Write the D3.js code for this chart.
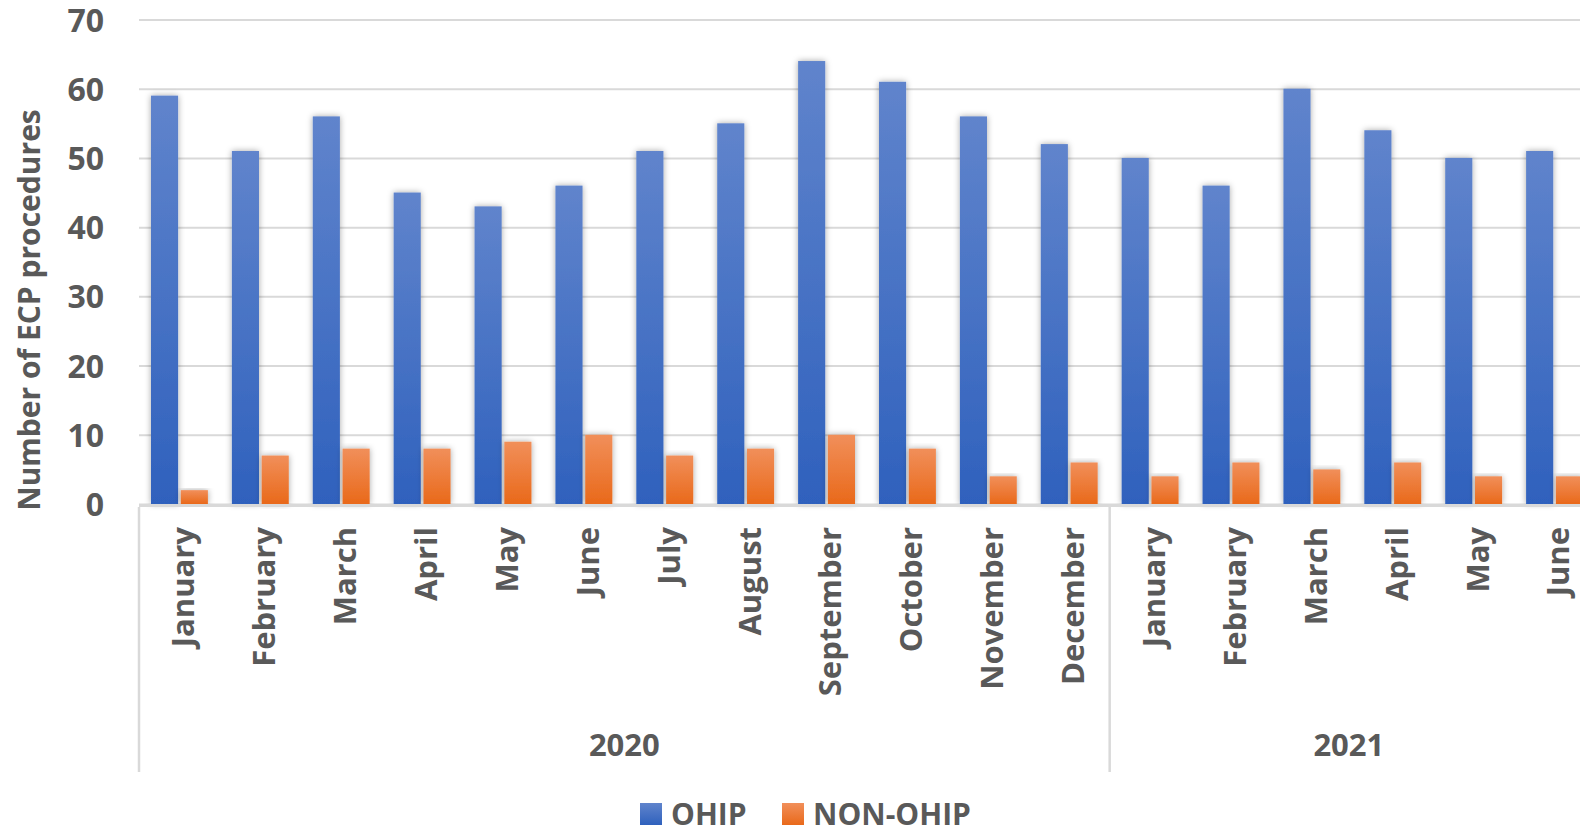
<!DOCTYPE html>
<html>
<head>
<meta charset="utf-8">
<script src="https://cdn.jsdelivr.net/npm/d3@7/dist/d3.min.js"></script>
<style>
  html, body { margin: 0; padding: 0; background: #fff; overflow: hidden; }
  svg { display: block; font-family: "Open Sans", "Liberation Sans", sans-serif; }
</style>
</head>
<body>
<svg id="chart" width="1580" height="830"></svg>
<script>
// Monthly ECP procedure counts, Jan 2020 – Jun 2021
const months = ["January","February","March","April","May","June","July","August",
                "September","October","November","December",
                "January","February","March","April","May","June"];
const years = ["2020","2020","2020","2020","2020","2020","2020","2020","2020","2020","2020","2020",
               "2021","2021","2021","2021","2021","2021"];
const ohip    = [59, 51, 56, 45, 43, 46, 51, 55, 64, 61, 56, 52, 50, 46, 60, 54, 50, 51];
const nonOhip = [ 2,  7,  8,  8,  9, 10,  7,  8, 10,  8,  4,  6,  4,  6,  5,  6,  4,  4];
const seriesNames = ["OHIP", "NON-OHIP"];
const yTicks = [0, 10, 20, 30, 40, 50, 60, 70];

const W = 1580, H = 830;
const plot = { left: 139, right: 1595, top: 19.5, bottom: 504 };
const catBottom = 772;
const textColor = "#595959";
const gridColor = "#D9D9D9";
const fontFamily = '"Open Sans", "Liberation Sans", sans-serif';

const svg = d3.select("#chart");
const defs = svg.append("defs");

function vGrad(id, top, bottom) {
  const g = defs.append("linearGradient").attr("id", id)
    .attr("x1", 0).attr("y1", 0).attr("x2", 0).attr("y2", 1);
  g.append("stop").attr("offset", "0%").attr("stop-color", top);
  g.append("stop").attr("offset", "100%").attr("stop-color", bottom);
}
vGrad("gBlue", "#6084CC", "#2F61BD");
vGrad("gOrange", "#F18F5A", "#E9691A");

const shadow = defs.append("filter").attr("id", "shadow")
  .attr("x", "-30%").attr("y", "-10%").attr("width", "160%").attr("height", "120%");
shadow.append("feDropShadow").attr("dx", 0).attr("dy", 0).attr("stdDeviation", 3)
  .attr("flood-color", "#000").attr("flood-opacity", 0.35);

const idx = d3.range(months.length);
const x = d3.scaleBand().domain(idx).range([plot.left, plot.right]).paddingInner(0).paddingOuter(0);
const inner = d3.scaleBand().domain(seriesNames).range([12, x.bandwidth() - 12]).paddingInner(0.09);
const y = d3.scaleLinear().domain([0, 70]).range([plot.bottom, plot.top]);

// gridlines and value labels
const yAxis = d3.axisLeft(y).tickValues(yTicks).tickSize(-(W - plot.left)).tickPadding(35);
const gy = svg.append("g").attr("transform", `translate(${plot.left},0)`).call(yAxis)
  .attr("font-family", fontFamily);
gy.select(".domain").remove();
gy.selectAll(".tick line").attr("stroke", gridColor).attr("stroke-width", 2);
gy.selectAll(".tick text")
  .attr("fill", textColor).attr("font-size", 32).attr("font-weight", 700)
  .attr("dy", "0.36em");

// bars
const groups = svg.append("g").selectAll("g").data(idx).join("g")
  .attr("transform", i => `translate(${x(i)},0)`);
const vals = { "OHIP": ohip, "NON-OHIP": nonOhip };
const fills = { "OHIP": "url(#gBlue)", "NON-OHIP": "url(#gOrange)" };
groups.selectAll("rect").data(i => seriesNames.map(s => ({ s, v: vals[s][i] }))).join("rect")
  .attr("x", d => inner(d.s))
  .attr("width", inner.bandwidth())
  .attr("y", d => y(d.v))
  .attr("height", d => y(0) - y(d.v))
  .attr("fill", d => fills[d.s])
  .attr("filter", "url(#shadow)");

// category axis line
svg.append("line").attr("x1", plot.left).attr("x2", W)
  .attr("y1", y(0) + 1.5).attr("y2", y(0) + 1.5)
  .attr("stroke", gridColor).attr("stroke-width", 3);

// month labels
svg.append("g").selectAll("text").data(idx).join("text")
  .attr("transform", i => `translate(${x(i) + x.bandwidth() / 2 + 4},${plot.bottom + 23}) rotate(-90)`)
  .attr("text-anchor", "end").attr("dy", "0.35em")
  .attr("fill", textColor).attr("font-size", 31).attr("font-weight", 700)
  .text(i => months[i]);

// year group separators and labels
const yearGroups = d3.groups(idx, i => years[i]);
const seps = [plot.left];
yearGroups.forEach(([yr, is]) => seps.push(x(is[is.length - 1]) + x.bandwidth()));
svg.append("g").selectAll("line").data(seps.filter(v => v < W)).join("line")
  .attr("x1", d => d).attr("x2", d => d)
  .attr("y1", plot.bottom + 3).attr("y2", catBottom)
  .attr("stroke", gridColor).attr("stroke-width", 2.5);

svg.append("g").selectAll("text").data(yearGroups).join("text")
  .attr("x", ([yr, is]) => {
    const a = x(is[0]);
    const b = Math.min(x(is[is.length - 1]) + x.bandwidth(), W + 8);
    return (a + b) / 2;
  })
  .attr("y", 745).attr("dy", "0.36em").attr("text-anchor", "middle")
  .attr("fill", textColor).attr("font-size", 31).attr("font-weight", 700)
  .text(([yr]) => yr);

// y axis title
svg.append("text")
  .attr("transform", `translate(29,310) rotate(-90)`)
  .attr("text-anchor", "middle").attr("dy", "0.36em")
  .attr("fill", textColor).attr("font-size", 30).attr("font-weight", 700)
  .text("Number of ECP procedures");

// legend
const legend = svg.append("g").attr("transform", "translate(640,814)");
const legendItems = [
  { name: seriesNames[0], fill: "url(#gBlue)", x: 0 },
  { name: seriesNames[1], fill: "url(#gOrange)", x: 142 }
];
const li = legend.selectAll("g").data(legendItems).join("g")
  .attr("transform", d => `translate(${d.x},0)`);
li.append("rect").attr("x", 0).attr("y", -11).attr("width", 22).attr("height", 22)
  .attr("fill", d => d.fill);
li.append("text").attr("x", 31).attr("dy", "0.36em")
  .attr("fill", textColor).attr("font-size", 30).attr("font-weight", 700)
  .text(d => d.name);
</script>
</body>
</html>
